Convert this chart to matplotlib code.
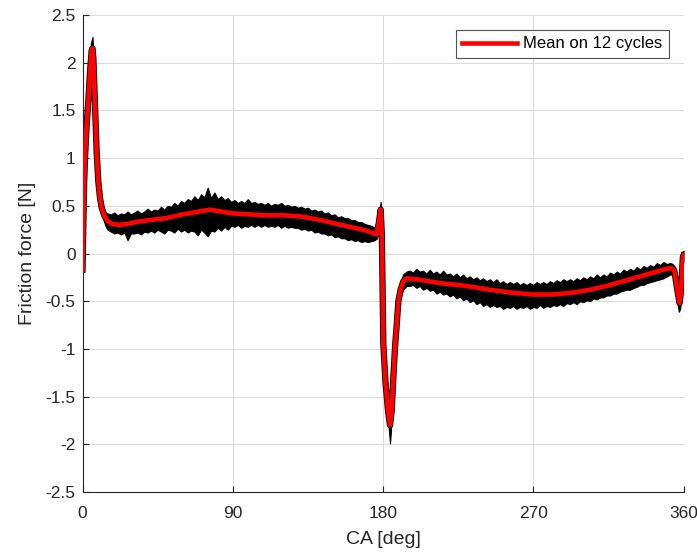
import numpy as np
import matplotlib
matplotlib.use("Agg")
import matplotlib.pyplot as plt

plt.rcParams['font.family'] = ['Liberation Sans', 'DejaVu Sans']

# Mean curve (red)
mean_deg = [0, 0.5, 1, 1.5, 2.5, 3.5, 4.5, 5.5, 6, 6.5, 7.5, 8.5, 9.5, 10.5, 11.5, 13, 15, 18, 22, 27,
            32, 40, 50, 60, 70, 76, 83, 90, 100, 110, 120, 130, 140, 150, 160, 170, 176, 177.5, 178.6,
            179.3, 180.2, 181.5, 183, 184.2, 185.2, 186.2, 187.2, 188.2, 189.2, 190.5, 192.2, 194.2,
            200, 214, 230, 244, 257, 270, 282, 294, 304, 314, 324, 334, 344, 350, 352.5, 354.5, 356,
            357.6, 358.5, 359.6, 360]
mean_val = [-0.17, 0.3, 0.75, 1.0, 1.35, 1.6, 1.9, 2.13, 2.15, 2.05, 1.55, 1.05, 0.75, 0.58, 0.48, 0.40,
            0.34, 0.31, 0.30, 0.31, 0.33, 0.35, 0.37, 0.41, 0.44, 0.46, 0.44, 0.42, 0.41, 0.40, 0.40,
            0.39, 0.36, 0.32, 0.28, 0.24, 0.20, 0.32, 0.46, 0.2, -0.95, -1.35, -1.65, -1.80, -1.65,
            -1.30, -0.98, -0.75, -0.50, -0.38, -0.29, -0.26, -0.27, -0.31, -0.34, -0.38, -0.41, -0.43,
            -0.43, -0.41, -0.38, -0.34, -0.29, -0.24, -0.19, -0.16, -0.15, -0.18, -0.35, -0.52, -0.40,
            -0.04, -0.02]

# Envelope of the 12 measured cycles (black)
env_deg = [0, 1, 2, 3, 4, 5, 6, 7, 8, 9, 10, 11, 12, 13, 14,
           15, 17, 19, 21, 23, 25, 27, 29, 31, 33, 35, 37, 39, 41, 43, 45, 47, 49, 51, 53, 55, 57, 59,
           61, 63, 65, 67, 69, 71, 73, 75, 77, 79, 81, 83, 85, 87, 89, 91, 93, 95, 97, 99, 101, 103,
           105, 107, 109, 111, 113, 115, 117, 119, 121, 123, 125, 127, 129, 131, 133, 135, 137, 139,
           141, 143, 145, 147, 149, 151, 153, 155, 157, 159, 161, 163, 165, 167, 169, 171, 173, 175,
           176.5, 177.5, 178.6, 179.3, 180.2, 181.5, 183, 184.2, 185.2, 186.2, 187.2, 188.2, 189.2,
           190.5, 192, 194,
           196, 198, 200, 202, 204, 206, 208, 210, 212, 214, 216, 218, 220, 222, 224, 226, 228, 230,
           232, 234, 236, 238, 240, 242, 244, 246, 248, 250, 252, 254, 256, 258, 260, 262, 264, 266,
           268, 270, 272, 274, 276, 278, 280, 282, 284, 286, 288, 290, 292, 294, 296, 298, 300, 302,
           304, 306, 308, 310, 312, 314, 316, 318, 320, 322, 324, 326, 328, 330, 332, 334, 336, 338,
           340, 342, 344, 346, 348, 350, 352, 353.5, 355, 356.2, 357.2, 358, 358.8, 359.6, 360]
env_hi = [-0.05, 0.8, 1.25, 1.6, 1.9, 2.2, 2.27, 1.9, 1.3, 0.9, 0.65, 0.55, 0.48, 0.45, 0.43,
          0.42, 0.41, 0.43, 0.40, 0.42, 0.41, 0.44, 0.41, 0.43, 0.45, 0.42, 0.44, 0.47, 0.44, 0.46,
          0.45, 0.49, 0.46, 0.50, 0.49, 0.53, 0.50, 0.55, 0.53, 0.57, 0.55, 0.60, 0.56, 0.62, 0.59,
          0.69, 0.58, 0.64, 0.57, 0.60, 0.56, 0.58, 0.54, 0.56, 0.53, 0.55, 0.53, 0.57, 0.53, 0.54,
          0.52, 0.53, 0.51, 0.53, 0.50, 0.52, 0.51, 0.53, 0.50, 0.51, 0.49, 0.50, 0.48, 0.49, 0.47,
          0.48, 0.45, 0.46, 0.44, 0.45, 0.42, 0.43, 0.40, 0.41, 0.38, 0.39, 0.37, 0.37, 0.35, 0.35,
          0.33, 0.33, 0.31, 0.30, 0.29, 0.27,
          0.30, 0.42, 0.54, 0.35, -0.80, -1.25, -1.55, -1.72, -1.55, -1.20, -0.90, -0.68, -0.42,
          -0.31, -0.22, -0.19,
          -0.18, -0.20, -0.16, -0.19, -0.18, -0.21, -0.17, -0.21, -0.19, -0.22, -0.18, -0.22, -0.21,
          -0.24, -0.21, -0.25, -0.22, -0.26, -0.24, -0.27, -0.25, -0.28, -0.26, -0.29, -0.27, -0.30,
          -0.27, -0.31, -0.29, -0.32, -0.30, -0.32, -0.30, -0.33, -0.31, -0.33, -0.31, -0.33, -0.30,
          -0.32, -0.30, -0.32, -0.29, -0.31, -0.28, -0.30, -0.27, -0.29, -0.27, -0.29, -0.26, -0.28,
          -0.25, -0.27, -0.24, -0.26, -0.22, -0.25, -0.22, -0.24, -0.20, -0.22, -0.19, -0.21, -0.17,
          -0.19, -0.16, -0.18, -0.14, -0.17, -0.13, -0.15, -0.12, -0.14, -0.10, -0.12, -0.09, -0.11,
          -0.10, -0.11, -0.14, -0.30, -0.45, -0.42, -0.25, 0.02, 0.03]
env_lo = [-0.30, 0.65, 1.1, 1.4, 1.7, 2.0, 2.1, 1.7, 1.15, 0.75, 0.55, 0.45, 0.38, 0.33, 0.28,
          0.25, 0.23, 0.21, 0.22, 0.20, 0.22, 0.14, 0.21, 0.21, 0.22, 0.20, 0.23, 0.22, 0.24, 0.22,
          0.25, 0.23, 0.21, 0.25, 0.24, 0.22, 0.26, 0.23, 0.25, 0.22, 0.24, 0.23, 0.19, 0.25, 0.22,
          0.18, 0.24, 0.23, 0.27, 0.24, 0.28, 0.25, 0.29, 0.28, 0.30, 0.27, 0.29, 0.28, 0.30, 0.28,
          0.30, 0.28, 0.30, 0.28, 0.29, 0.28, 0.30, 0.27, 0.29, 0.27, 0.28, 0.27, 0.27, 0.25, 0.26,
          0.24, 0.25, 0.22, 0.23, 0.21, 0.21, 0.19, 0.20, 0.17, 0.18, 0.16, 0.16, 0.14, 0.15, 0.13,
          0.14, 0.12, 0.13, 0.12, 0.13, 0.14,
          0.16, 0.28, 0.40, 0.10, -1.05, -1.45, -1.75, -1.99, -1.75, -1.40, -1.06, -0.84, -0.58,
          -0.46, -0.38, -0.34,
          -0.34, -0.33, -0.36, -0.34, -0.38, -0.36, -0.39, -0.38, -0.42, -0.40, -0.43, -0.42, -0.45,
          -0.43, -0.47, -0.45, -0.49, -0.47, -0.51, -0.49, -0.53, -0.51, -0.55, -0.53, -0.56, -0.54,
          -0.56, -0.55, -0.58, -0.56, -0.57, -0.55, -0.58, -0.56, -0.57, -0.55, -0.58, -0.56, -0.57,
          -0.54, -0.57, -0.55, -0.56, -0.54, -0.55, -0.53, -0.55, -0.52, -0.53, -0.51, -0.53, -0.50,
          -0.51, -0.49, -0.50, -0.47, -0.48, -0.46, -0.46, -0.44, -0.44, -0.42, -0.42, -0.40, -0.39,
          -0.38, -0.38, -0.36, -0.35, -0.33, -0.33, -0.31, -0.30, -0.29, -0.28, -0.27, -0.26, -0.24,
          -0.22, -0.22, -0.30, -0.50, -0.61, -0.58, -0.45, -0.12, -0.08]

x_ticks = [0, 90, 180, 270, 360]
y_ticks = [-2.5, -2, -1.5, -1, -0.5, 0, 0.5, 1, 1.5, 2, 2.5]
y_ticklabels = ['-2.5', '-2', '-1.5', '-1', '-0.5', '0', '0.5', '1', '1.5', '2', '2.5']

fig = plt.figure(figsize=(6.97, 5.52), dpi=100)
ax = fig.add_axes([82.5 / 697, 60 / 552, 601 / 697, 477 / 552])

ax.fill_between(env_deg, env_lo, env_hi, color='black', linewidth=0.8, edgecolor='black', zorder=2)
ax.plot(mean_deg, mean_val, color='black', linewidth=4.5, zorder=2.5)
ax.plot(mean_deg, mean_val, color='#ff0000', linewidth=3.3, label='Mean on 12 cycles', zorder=3)

ax.set_xlim(0, 360)
ax.set_ylim(-2.5, 2.5)
ax.set_xticks(x_ticks)
ax.set_yticks(y_ticks)
ax.set_yticklabels(y_ticklabels)

ax.grid(True, color='#dcdcdc', linewidth=0.8)
ax.set_axisbelow(True)
for s in ['top', 'right']:
    ax.spines[s].set_visible(False)
for s in ['left', 'bottom']:
    ax.spines[s].set_color('#262626')
    ax.spines[s].set_linewidth(0.8)
ax.tick_params(direction='in', length=4, width=0.8, colors='#262626', labelsize=12.5)
ax.tick_params(axis='x', pad=10)
ax.tick_params(axis='y', pad=5)

ax.set_xlabel('CA [deg]', fontsize=14, color='#262626', labelpad=7)
ax.set_ylabel('Friction force [N]', fontsize=14, color='#262626', labelpad=6.5)

leg = ax.legend(loc='upper right', bbox_to_anchor=(0.976, 0.969), fontsize=12, frameon=True,
                fancybox=False, handlelength=3.3, borderpad=0.4, handletextpad=0.35,
                borderaxespad=0.0)
leg.get_frame().set_edgecolor('#262626')
leg.get_frame().set_linewidth(0.8)

fig.savefig('out.png', dpi=100)
